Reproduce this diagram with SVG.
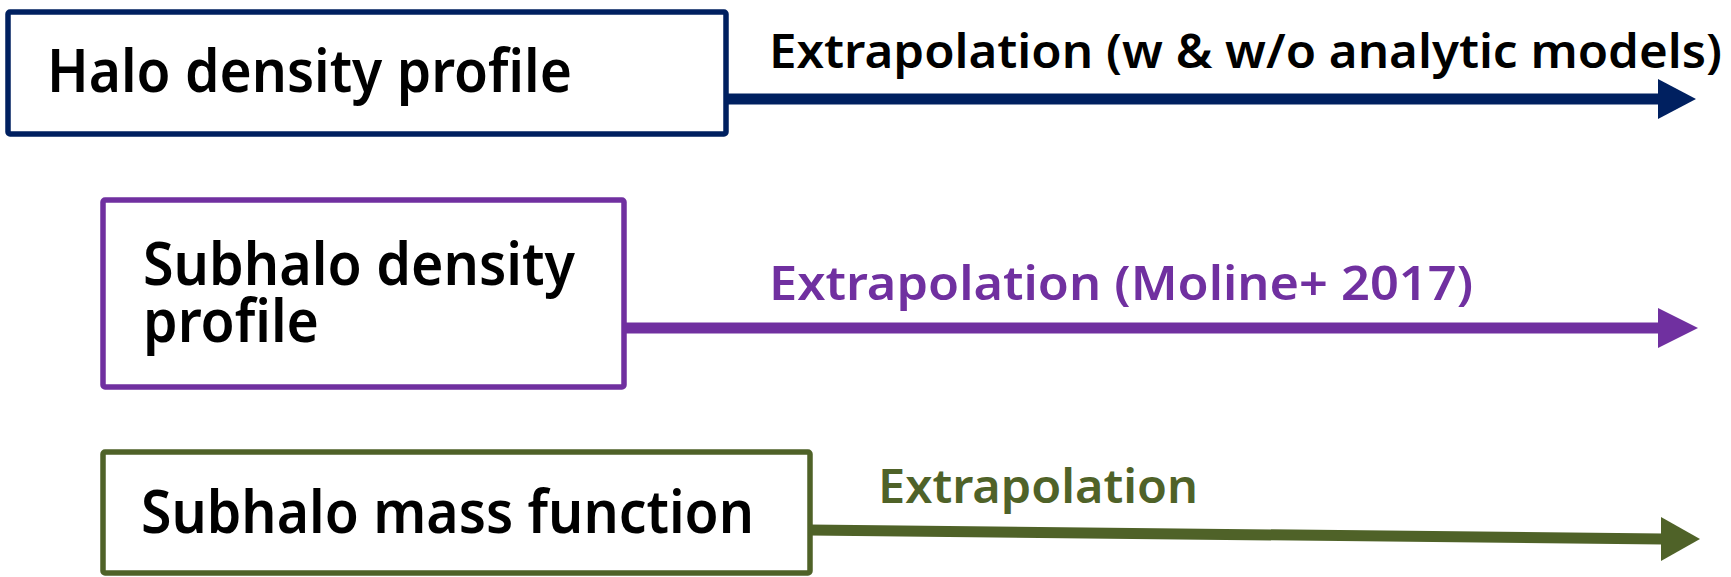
<svg xmlns="http://www.w3.org/2000/svg" width="1731" height="577" viewBox="0 0 1731 577">
<style>
.box{fill:#fff;stroke-width:5.5}
.t{font-family:"Noto Sans","Liberation Sans",sans-serif;font-weight:600;font-size:59px;fill:#000}
.l{font-family:"Noto Sans","Liberation Sans",sans-serif;font-weight:600;font-size:46px}
.c{stroke-width:11;fill:none}
</style>
<rect width="1731" height="577" fill="#fff"/>
<g id="halo">
<rect class="box" x="8" y="12" width="718" height="122" rx="2" stroke="#002060"/>
<text class="t" x="47" y="92" textLength="525" lengthAdjust="spacingAndGlyphs">Halo density profile</text>
</g>
<g id="subhalo-density">
<rect class="box" x="103" y="200" width="521" height="187" rx="2" stroke="#7030A0"/>
<text class="t"><tspan x="143" y="285" textLength="432" lengthAdjust="spacingAndGlyphs">Subhalo density</tspan><tspan x="143" y="342" textLength="176" lengthAdjust="spacingAndGlyphs">profile</tspan></text>
</g>
<g id="subhalo-mass">
<rect class="box" x="103" y="452" width="707" height="121" rx="2" stroke="#4F6228"/>
<text class="t" x="141" y="533" textLength="613" lengthAdjust="spacingAndGlyphs">Subhalo mass function</text>
</g>
<g id="connectors">
<line class="c" x1="726" y1="99" x2="1660" y2="99" stroke="#002060"/>
<polygon points="1658,79 1696,99 1658,119" fill="#002060"/>
<text class="l" x="769" y="68" fill="#000" textLength="953" lengthAdjust="spacingAndGlyphs">Extrapolation (w &amp; w/o analytic models)</text>
<line class="c" x1="625" y1="328" x2="1660" y2="328" stroke="#7030A0"/>
<polygon points="1658,308 1698,328 1658,348" fill="#7030A0"/>
<text class="l" x="769" y="300" fill="#7030A0" textLength="704" lengthAdjust="spacingAndGlyphs">Extrapolation (Moline+ 2017)</text>
<line class="c" x1="809" y1="530" x2="1663" y2="539" stroke="#4F6228"/>
<polygon points="1661,517 1700,539 1661,561" fill="#4F6228"/>
<text class="l" x="878" y="503" fill="#4F6228" textLength="320" lengthAdjust="spacingAndGlyphs">Extrapolation</text>
</g>
</svg>
